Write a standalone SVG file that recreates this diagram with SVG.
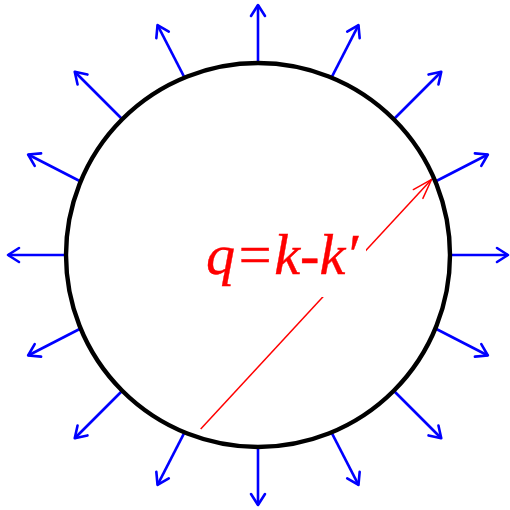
<svg xmlns="http://www.w3.org/2000/svg" width="510" height="510" viewBox="0 0 510 510">
  <style>
    .out { stroke: #0000ff; stroke-width: 2.6; fill: none; marker-end: url(#bhead); }
    .circ { stroke: #000; stroke-width: 4.4; fill: none; }
    .q { stroke: #ff0000; stroke-width: 1.5; fill: none; marker-end: url(#rhead); }
    .lbl { font-family: "Liberation Serif", "DejaVu Serif", serif; font-style: italic; font-size: 57px; fill: #ff0000; stroke: #ff0000; stroke-width: 0.4; }
  </style>
  <defs>
    <marker id="bhead" markerUnits="userSpaceOnUse" markerWidth="30" markerHeight="30" viewBox="-15 -15 30 30" refX="0" refY="0" orient="auto" overflow="visible">
      <path d="M-11,-7 L0,0 L-11,7" fill="none" stroke="#0000ff" stroke-width="2.6" stroke-linecap="round" stroke-linejoin="round"/>
    </marker>
    <marker id="rhead" markerUnits="userSpaceOnUse" markerWidth="50" markerHeight="50" viewBox="-25 -25 50 50" refX="0" refY="0" orient="auto" overflow="visible">
      <path d="M-20,-6.5 L0,0 L-20,6.5" fill="none" stroke="#ff0000" stroke-width="1.5" stroke-linecap="round" stroke-linejoin="round"/>
    </marker>
  </defs>
  <rect width="510" height="510" fill="#fff"/>
  <g id="connectors">
    <line class="out" x1="450" y1="255" x2="508" y2="255"/>
    <line class="out" x1="435.38" y1="181.53" x2="487.88" y2="154.53"/>
    <line class="out" x1="393.76" y1="119.24" x2="441.26" y2="71.74"/>
    <line class="out" x1="331.47" y1="77.62" x2="358.47" y2="25.12"/>
    <line class="out" x1="258" y1="63" x2="258" y2="5"/>
    <line class="out" x1="184.53" y1="77.62" x2="157.53" y2="25.12"/>
    <line class="out" x1="122.24" y1="119.24" x2="74.74" y2="71.74"/>
    <line class="out" x1="80.62" y1="181.53" x2="28.12" y2="154.53"/>
    <line class="out" x1="66" y1="255" x2="8" y2="255"/>
    <line class="out" x1="80.62" y1="328.47" x2="28.12" y2="355.47"/>
    <line class="out" x1="122.24" y1="390.76" x2="74.74" y2="438.26"/>
    <line class="out" x1="184.53" y1="432.38" x2="157.53" y2="484.88"/>
    <line class="out" x1="258" y1="447" x2="258" y2="505"/>
    <line class="out" x1="331.47" y1="432.38" x2="358.47" y2="484.88"/>
    <line class="out" x1="393.76" y1="390.76" x2="441.26" y2="438.26"/>
    <line class="out" x1="435.38" y1="328.47" x2="487.88" y2="355.47"/>
    <line class="q" x1="200.7" y1="429" x2="431.7" y2="179.3"/>
  </g>
  <g id="circle">
    <circle class="circ" cx="258" cy="255" r="192"/>
  </g>
  <g id="label">
    <rect x="198" y="240" width="168" height="57" fill="#fff"/>
    <text class="lbl" x="206" y="274" textLength="152" lengthAdjust="spacingAndGlyphs">q=k-k′</text>
  </g>
</svg>
